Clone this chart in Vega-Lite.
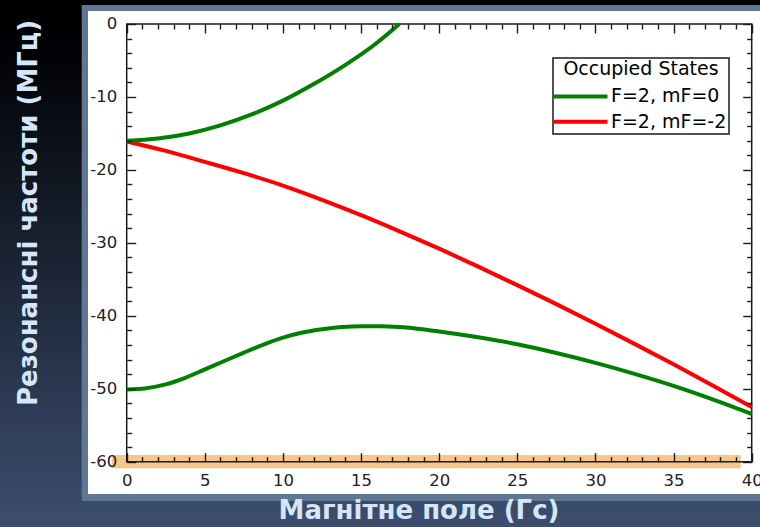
{
  "$schema": "https://vega.github.io/schema/vega-lite/v6.json",
  "width": 760,
  "height": 527,
  "autosize": {"type": "none"},
  "padding": 0,
  "background": "#000000",
  "config": {
    "view": {"stroke": null},
    "legend": {"strokeWidth": 1.5}
  },
  "layer": [
    {
      "data": {"values": [{}]},
      "mark": {
        "type": "rect",
        "fill": {
          "gradient": "linear", "x1": 0, "y1": 0, "x2": 0, "y2": 1,
          "stops": [
            {"offset": 0, "color": "#000000"},
            {"offset": 0.1, "color": "#010205"},
            {"offset": 1, "color": "#3c4e6f"}
          ]
        }
      },
      "encoding": {}
    },
    {
      "data": {"values": [{}]},
      "mark": {"type": "rect", "fill": "#5f7793"},
      "encoding": {
        "x": {"datum": -2.88, "type": "quantitative", "scale": {"domain": [-8.1088, 40.5312], "nice": false, "zero": false}, "axis": null},
        "x2": {"datum": 40.5312},
        "y": {"datum": 2.604, "type": "quantitative", "scale": {"domain": [-68.9514, 3.2899], "nice": false, "zero": false}, "axis": null},
        "y2": {"datum": -65.387}
      }
    },
    {
      "data": {"values": [{}]},
      "mark": {"type": "rect", "fill": "#ffffff"},
      "encoding": {
        "x": {"datum": -2.477, "type": "quantitative", "scale": {"domain": [-8.1088, 40.5312], "nice": false, "zero": false}, "axis": null},
        "x2": {"datum": 40.5312},
        "y": {"datum": 1.782, "type": "quantitative", "scale": {"domain": [-68.9514, 3.2899], "nice": false, "zero": false}, "axis": null},
        "y2": {"datum": -64.428}
      }
    },
    {
      "data": {"values": [{}]},
      "mark": {"type": "rect", "fill": "#f2ae5a", "opacity": 0.7},
      "encoding": {
        "x": {"datum": -0.96, "type": "quantitative", "scale": {"domain": [-8.1088, 40.5312], "nice": false, "zero": false}, "axis": null},
        "x2": {"datum": 39.296},
        "y": {"datum": -59.081, "type": "quantitative", "scale": {"domain": [-68.9514, 3.2899], "nice": false, "zero": false}, "axis": null},
        "y2": {"datum": -60.905}
      }
    },
    {
      "data": {"values": [{}]},
      "mark": {"type": "rect", "fill": null, "stroke": "#1a1a1a", "strokeWidth": 1.5},
      "encoding": {
        "x": {
          "datum": 0, "type": "quantitative",
          "scale": {"domain": [-8.1088, 40.5312], "nice": false, "zero": false},
          "axis": {
            "orient": "top", "offset": -24, "title": null, "labels": false, "domain": false, "grid": false,
            "values": [0,1,2,3,4,5,6,7,8,9,10,11,12,13,14,15,16,17,18,19,20,21,22,23,24,25,26,27,28,29,30,31,32,33,34,35,36,37,38,39,40],
            "tickSize": {"condition": {"test": "datum.value % 5 === 0", "value": -9}, "value": -5},
            "tickColor": "#1a1a1a", "tickWidth": 1.4, "zindex": 1
          }
        },
        "x2": {"datum": 40},
        "y": {
          "datum": 0, "type": "quantitative",
          "scale": {"domain": [-68.9514, 3.2899], "nice": false, "zero": false},
          "axis": {
            "orient": "right", "offset": -8.3, "title": null, "labels": false, "domain": false, "grid": false,
            "values": [-60,-58,-56,-54,-52,-50,-48,-46,-44,-42,-40,-38,-36,-34,-32,-30,-28,-26,-24,-22,-20,-18,-16,-14,-12,-10,-8,-6,-4,-2,0],
            "tickSize": {"condition": {"test": "datum.value % 10 === 0", "value": -9}, "value": -5},
            "tickColor": "#1a1a1a", "tickWidth": 1.4, "zindex": 1
          }
        },
        "y2": {"datum": -60}
      }
    },
    {
      "data": {
        "values": [
          {"B": 0, "f": -16.1, "state": "F=2, mF=-2", "branch": "red"},
          {"B": 2.5, "f": -17.4, "state": "F=2, mF=-2", "branch": "red"},
          {"B": 5, "f": -18.9, "state": "F=2, mF=-2", "branch": "red"},
          {"B": 7.5, "f": -20.45, "state": "F=2, mF=-2", "branch": "red"},
          {"B": 10, "f": -22.15, "state": "F=2, mF=-2", "branch": "red"},
          {"B": 12.5, "f": -24.1, "state": "F=2, mF=-2", "branch": "red"},
          {"B": 15, "f": -26.2, "state": "F=2, mF=-2", "branch": "red"},
          {"B": 17.5, "f": -28.45, "state": "F=2, mF=-2", "branch": "red"},
          {"B": 20, "f": -30.8, "state": "F=2, mF=-2", "branch": "red"},
          {"B": 22.5, "f": -33.25, "state": "F=2, mF=-2", "branch": "red"},
          {"B": 25, "f": -35.8, "state": "F=2, mF=-2", "branch": "red"},
          {"B": 27.5, "f": -38.4, "state": "F=2, mF=-2", "branch": "red"},
          {"B": 30, "f": -41.1, "state": "F=2, mF=-2", "branch": "red"},
          {"B": 32.5, "f": -43.85, "state": "F=2, mF=-2", "branch": "red"},
          {"B": 35, "f": -46.65, "state": "F=2, mF=-2", "branch": "red"},
          {"B": 37.5, "f": -49.55, "state": "F=2, mF=-2", "branch": "red"},
          {"B": 40, "f": -52.5, "state": "F=2, mF=-2", "branch": "red"},
          {"B": 0, "f": -16.0, "state": "F=2, mF=0", "branch": "upper"},
          {"B": 2, "f": -15.7, "state": "F=2, mF=0", "branch": "upper"},
          {"B": 4, "f": -15.0, "state": "F=2, mF=0", "branch": "upper"},
          {"B": 6, "f": -13.9, "state": "F=2, mF=0", "branch": "upper"},
          {"B": 8, "f": -12.4, "state": "F=2, mF=0", "branch": "upper"},
          {"B": 10, "f": -10.5, "state": "F=2, mF=0", "branch": "upper"},
          {"B": 12, "f": -8.2, "state": "F=2, mF=0", "branch": "upper"},
          {"B": 14, "f": -5.6, "state": "F=2, mF=0", "branch": "upper"},
          {"B": 16, "f": -2.6, "state": "F=2, mF=0", "branch": "upper"},
          {"B": 17.45, "f": 0, "state": "F=2, mF=0", "branch": "upper"},
          {"B": 0, "f": -50.1, "state": "F=2, mF=0", "branch": "lower"},
          {"B": 1.25, "f": -49.92, "state": "F=2, mF=0", "branch": "lower"},
          {"B": 2.5, "f": -49.4, "state": "F=2, mF=0", "branch": "lower"},
          {"B": 3.75, "f": -48.5, "state": "F=2, mF=0", "branch": "lower"},
          {"B": 5, "f": -47.35, "state": "F=2, mF=0", "branch": "lower"},
          {"B": 6.25, "f": -46.2, "state": "F=2, mF=0", "branch": "lower"},
          {"B": 7.5, "f": -45.05, "state": "F=2, mF=0", "branch": "lower"},
          {"B": 8.75, "f": -43.95, "state": "F=2, mF=0", "branch": "lower"},
          {"B": 10, "f": -43.0, "state": "F=2, mF=0", "branch": "lower"},
          {"B": 11.25, "f": -42.3, "state": "F=2, mF=0", "branch": "lower"},
          {"B": 12.5, "f": -41.85, "state": "F=2, mF=0", "branch": "lower"},
          {"B": 13.75, "f": -41.55, "state": "F=2, mF=0", "branch": "lower"},
          {"B": 15, "f": -41.42, "state": "F=2, mF=0", "branch": "lower"},
          {"B": 16.25, "f": -41.42, "state": "F=2, mF=0", "branch": "lower"},
          {"B": 17.5, "f": -41.55, "state": "F=2, mF=0", "branch": "lower"},
          {"B": 18.75, "f": -41.8, "state": "F=2, mF=0", "branch": "lower"},
          {"B": 20, "f": -42.15, "state": "F=2, mF=0", "branch": "lower"},
          {"B": 22.5, "f": -42.95, "state": "F=2, mF=0", "branch": "lower"},
          {"B": 25, "f": -43.9, "state": "F=2, mF=0", "branch": "lower"},
          {"B": 27.5, "f": -45.1, "state": "F=2, mF=0", "branch": "lower"},
          {"B": 30, "f": -46.45, "state": "F=2, mF=0", "branch": "lower"},
          {"B": 32.5, "f": -47.95, "state": "F=2, mF=0", "branch": "lower"},
          {"B": 35, "f": -49.6, "state": "F=2, mF=0", "branch": "lower"},
          {"B": 37.5, "f": -51.45, "state": "F=2, mF=0", "branch": "lower"},
          {"B": 40, "f": -53.45, "state": "F=2, mF=0", "branch": "lower"}
        ]
      },
      "mark": {"type": "line", "strokeWidth": 4, "interpolate": "monotone"},
      "encoding": {
        "x": {
          "field": "B", "type": "quantitative",
          "scale": {"domain": [-8.1088, 40.5312], "nice": false, "zero": false},
          "axis": {
            "orient": "bottom", "offset": -65.3, "domain": false, "grid": false,
            "values": [0,1,2,3,4,5,6,7,8,9,10,11,12,13,14,15,16,17,18,19,20,21,22,23,24,25,26,27,28,29,30,31,32,33,34,35,36,37,38,39,40],
            "tickSize": {"condition": {"test": "datum.value % 5 === 0", "value": -9}, "value": -5},
            "tickColor": "#1a1a1a", "tickWidth": 1.4,
            "labelExpr": "datum.value % 5 === 0 ? '' + datum.value : ''",
            "labelFont": "DejaVu Sans", "labelFontSize": 16.5, "labelColor": "#222222",
            "labelPadding": 19.5, "labelOverlap": false, "labelFlush": false,
            "title": "Магнітне поле (Гс)",
            "titleX": 418.5, "titleY": 56.3, "titleAlign": "center", "titleBaseline": "alphabetic",
            "titleFont": "DejaVu Sans", "titleFontSize": 26, "titleFontWeight": "bold", "titleColor": "#d4e6f8",
            "zindex": 1
          }
        },
        "y": {
          "field": "f", "type": "quantitative",
          "scale": {"domain": [-68.9514, 3.2899], "nice": false, "zero": false},
          "axis": {
            "orient": "left", "offset": -126.7, "domain": false, "grid": false,
            "values": [-60,-58,-56,-54,-52,-50,-48,-46,-44,-42,-40,-38,-36,-34,-32,-30,-28,-26,-24,-22,-20,-18,-16,-14,-12,-10,-8,-6,-4,-2,0],
            "tickSize": {"condition": {"test": "datum.value % 10 === 0", "value": -9}, "value": -5},
            "tickColor": "#1a1a1a", "tickWidth": 1.4,
            "labelExpr": "datum.value % 10 === 0 ? '' + datum.value : ''",
            "labelFont": "DejaVu Sans", "labelFontSize": 16.5, "labelColor": "#222222",
            "labelPadding": 19, "labelOverlap": false, "labelFlush": false,
            "title": "Резонансні частоти (МГц)",
            "titleX": -90.7, "titleY": 212.5, "titleAngle": 270, "titleAlign": "center", "titleBaseline": "alphabetic",
            "titleFont": "DejaVu Sans", "titleFontSize": 26, "titleFontWeight": "bold", "titleColor": "#d4e6f8",
            "zindex": 1
          }
        },
        "detail": {"field": "branch"},
        "color": {
          "field": "state", "type": "nominal",
          "scale": {"domain": ["F=2, mF=0", "F=2, mF=-2"], "range": ["#008000", "#ff0000"]},
          "legend": {
            "title": "Occupied States",
            "orient": "none", "legendX": 553, "legendY": 58,
            "padding": 2, "fillColor": "#ffffff", "strokeColor": "#1a1a1a",
            "titleFont": "DejaVu Sans", "titleFontSize": 19, "titleFontWeight": "normal", "titleColor": "#000000",
            "titleAnchor": "middle", "titlePadding": 7.9,
            "labelFont": "DejaVu Sans", "labelFontSize": 19, "labelColor": "#000000", "labelOffset": 37,
            "rowPadding": 5.3,
            "symbolType": "M-2.75,0H10.75", "symbolSize": 64, "symbolStrokeWidth": 4
          }
        }
      }
    }
  ]
}
